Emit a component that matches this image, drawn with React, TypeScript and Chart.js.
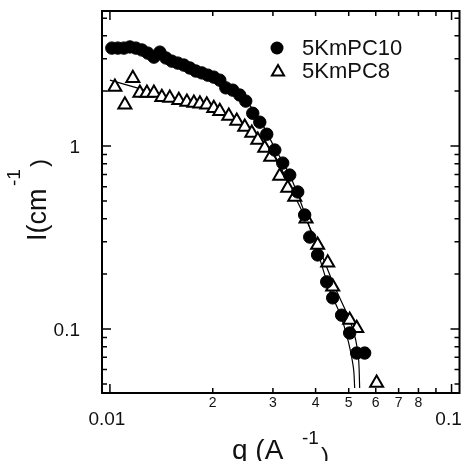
import React, { useEffect, useRef } from 'react';
import { Chart, registerables } from 'chart.js';

Chart.register(...registerables);

const FONT = '"Liberation Sans", Arial, Helvetica, sans-serif';

// 5KmPC10 (filled circles)
const qC = [0.01013, 0.01055, 0.01099, 0.01144, 0.01191, 0.0124, 0.01291, 0.01345, 0.014, 0.01458, 0.01518, 0.0158, 0.01646, 0.01713, 0.01784, 0.01858, 0.01934, 0.02014, 0.02097, 0.02184, 0.02289, 0.02399, 0.02498, 0.02619, 0.02746, 0.02878, 0.03038, 0.03205, 0.0336, 0.03546, 0.03716, 0.03845, 0.04055, 0.04311, 0.04488, 0.04767, 0.05033, 0.05277, 0.05568];
const iC = [3.43, 3.43, 3.43, 3.48, 3.43, 3.35, 3.22, 3.06, 3.26, 3.03, 2.91, 2.84, 2.77, 2.67, 2.57, 2.51, 2.44, 2.38, 2.29, 2.08, 2.02, 1.9, 1.76, 1.51, 1.35, 1.16, 0.951, 0.807, 0.694, 0.561, 0.42, 0.318, 0.254, 0.181, 0.148, 0.119, 0.0951, 0.0739, 0.0739];

// 5KmPC8 (open triangles)
const qT = [0.01034, 0.01106, 0.01167, 0.01224, 0.01283, 0.01345, 0.01419, 0.01497, 0.01591, 0.0168, 0.01761, 0.01834, 0.01921, 0.02014, 0.02097, 0.02228, 0.02351, 0.02481, 0.02602, 0.02709, 0.02839, 0.02956, 0.03141, 0.03315, 0.03475, 0.0375, 0.04055, 0.0434, 0.04488, 0.05033, 0.05277, 0.06035];
const iT = [2.1, 1.68, 2.35, 1.95, 1.95, 1.95, 1.85, 1.83, 1.78, 1.74, 1.72, 1.7, 1.68, 1.61, 1.55, 1.46, 1.37, 1.27, 1.18, 1.08, 0.975, 0.871, 0.686, 0.589, 0.526, 0.4, 0.288, 0.23, 0.17, 0.112, 0.101, 0.0507];

// fitted curves
const qFitC = [0.01, 0.01309, 0.01713, 0.02097, 0.02399, 0.02746, 0.03038, 0.0336, 0.03716, 0.04055, 0.04399, 0.04732, 0.04932, 0.05066, 0.0517, 0.05205];
const iFitC = [3.48, 3.22, 2.74, 2.29, 1.95, 1.39, 0.975, 0.694, 0.43, 0.264, 0.163, 0.119, 0.0927, 0.0749, 0.0597, 0.0476];
const qFitT = [0.01, 0.01327, 0.01858, 0.0232, 0.02709, 0.03038, 0.03475, 0.04055, 0.04549, 0.05033, 0.05241, 0.05346, 0.05383];
const iFitT = [2.29, 1.97, 1.65, 1.37, 1.09, 0.871, 0.533, 0.288, 0.17, 0.112, 0.0871, 0.0677, 0.0476];

// axes
const X_MIN = 0.00948;
const X_MAX = 0.1055;
const Y_MIN = 0.0447;
const Y_MAX = 5.47;
const xMajor = [0.01, 0.1];
const xMajorLabels = ['0.01', '0.1'];
const xMinor = [0.02, 0.03, 0.04, 0.05, 0.06, 0.07, 0.08, 0.09];
const xMinorLabels = ['2', '3', '4', '5', '6', '7', '8', ''];
const yMajor = [0.1, 1];
const yMajorLabels = ['0.1', '1'];
const yMinor = [0.05, 0.06, 0.07, 0.08, 0.09, 0.2, 0.3, 0.4, 0.5, 0.6, 0.7, 0.8, 0.9, 2, 3, 4, 5];

const seriesNames = ['5KmPC10', '5KmPC8'];

const zip = (xs: number[], ys: number[]) => xs.map((x, i) => ({ x, y: ys[i] }));

const drawTriangle = (ctx: CanvasRenderingContext2D, x: number, y: number, r: number) => {
  ctx.beginPath();
  for (let k = 0; k < 3; k++) {
    const a = (k * 2 * Math.PI) / 3;
    const px = x + Math.sin(a) * r;
    const py = y - Math.cos(a) * r;
    if (k === 0) ctx.moveTo(px, py);
    else ctx.lineTo(px, py);
  }
  ctx.closePath();
};

const decorPlugin = {
  id: 'decor',
  afterDraw(chart: any) {
    const { ctx, chartArea: a, scales } = chart;
    const xs = scales.x;
    const ys = scales.y;
    ctx.save();
    ctx.strokeStyle = '#000';
    ctx.fillStyle = '#000';
    ctx.lineWidth = 2;
    ctx.strokeRect(a.left, a.top, a.right - a.left, a.bottom - a.top);

    ctx.lineWidth = 1.5;
    const xTick = (v: number, len: number) => {
      const p = xs.getPixelForValue(v);
      ctx.beginPath();
      ctx.moveTo(p, a.bottom);
      ctx.lineTo(p, a.bottom - len);
      ctx.moveTo(p, a.top);
      ctx.lineTo(p, a.top + len);
      ctx.stroke();
    };
    const yTick = (v: number, len: number) => {
      const p = ys.getPixelForValue(v);
      ctx.beginPath();
      ctx.moveTo(a.left, p);
      ctx.lineTo(a.left + len, p);
      ctx.moveTo(a.right, p);
      ctx.lineTo(a.right - len, p);
      ctx.stroke();
    };
    xMajor.forEach((v) => xTick(v, 9));
    xMinor.forEach((v) => xTick(v, 5));
    yMajor.forEach((v) => yTick(v, 9));
    yMinor.forEach((v) => yTick(v, 5));

    // tick labels
    ctx.fillStyle = '#111';
    ctx.textAlign = 'center';
    ctx.textBaseline = 'middle';
    ctx.font = `14px ${FONT}`;
    xMinor.forEach((v, i) => {
      if (xMinorLabels[i]) ctx.fillText(xMinorLabels[i], xs.getPixelForValue(v), a.bottom + 10);
    });
    ctx.font = `19px ${FONT}`;
    xMajor.forEach((v, i) => {
      ctx.fillText(xMajorLabels[i], xs.getPixelForValue(v) - 3, a.bottom + 27);
    });
    ctx.textAlign = 'right';
    yMajor.forEach((v, i) => {
      ctx.fillText(yMajorLabels[i], a.left - 22, ys.getPixelForValue(v) + 2);
    });

    // x title
    ctx.textAlign = 'left';
    ctx.textBaseline = 'alphabetic';
    ctx.font = `28px ${FONT}`;
    ctx.fillText('q (A', 232, 459);
    ctx.font = `19px ${FONT}`;
    ctx.fillText('-1', 302, 444);
    ctx.font = `24px ${FONT}`;
    ctx.fillText(')', 321, 464);

    // y title
    ctx.save();
    ctx.translate(46, 241);
    ctx.rotate(-Math.PI / 2);
    ctx.font = `27px ${FONT}`;
    ctx.fillText('I(cm', 0, 0);
    ctx.font = `19px ${FONT}`;
    ctx.fillText('-1', 55, -26);
    ctx.font = `24px ${FONT}`;
    ctx.fillText(')', 74, 1);
    ctx.restore();

    // legend
    ctx.fillStyle = '#000';
    ctx.beginPath();
    ctx.arc(277, 48, 6.5, 0, Math.PI * 2);
    ctx.fill();
    ctx.fillStyle = '#fff';
    ctx.lineWidth = 2;
    drawTriangle(ctx, 278, 72, 7);
    ctx.fill();
    ctx.stroke();
    ctx.fillStyle = '#111';
    ctx.font = `22px ${FONT}`;
    ctx.textBaseline = 'middle';
    ctx.fillText(seriesNames[0], 302, 49);
    ctx.fillText(seriesNames[1], 302, 72);
    ctx.restore();
  },
};

export default function App() {
  const ref = useRef<HTMLCanvasElement>(null);
  useEffect(() => {
    if (!ref.current) return;
    const chart = new Chart(ref.current, {
      type: 'scatter',
      data: {
        datasets: [
          {
            label: seriesNames[0],
            data: zip(qC, iC),
            pointStyle: 'circle',
            pointRadius: 6.2,
            backgroundColor: '#000',
            borderColor: '#000',
            borderWidth: 1,
            showLine: false,
            order: 1,
          },
          {
            label: seriesNames[1],
            data: zip(qT, iT),
            pointStyle: 'triangle',
            pointRadius: 7.5,
            backgroundColor: '#fff',
            borderColor: '#000',
            borderWidth: 2,
            showLine: false,
            order: 2,
          },
          {
            label: 'fit10',
            data: zip(qFitC, iFitC),
            showLine: true,
            pointRadius: 0,
            borderColor: '#000',
            borderWidth: 1.2,
            tension: 0.3,
            fill: false,
            order: 3,
          },
          {
            label: 'fit8',
            data: zip(qFitT, iFitT),
            showLine: true,
            pointRadius: 0,
            borderColor: '#000',
            borderWidth: 1.2,
            tension: 0.3,
            fill: false,
            order: 3,
          },
        ],
      },
      options: {
        responsive: false,
        animation: false,
        layout: { padding: { top: 11, right: 9, left: 0, bottom: 0 } },
        plugins: { legend: { display: false }, tooltip: { enabled: false } },
        scales: {
          x: {
            type: 'logarithmic',
            min: X_MIN,
            max: X_MAX,
            grid: { display: false },
            border: { display: false },
            ticks: { display: false },
            afterFit: (s: any) => {
              s.height = 68;
            },
          },
          y: {
            type: 'logarithmic',
            min: Y_MIN,
            max: Y_MAX,
            grid: { display: false },
            border: { display: false },
            ticks: { display: false },
            afterFit: (s: any) => {
              s.width = 102;
            },
          },
        },
      },
      plugins: [decorPlugin],
    } as any);
    return () => chart.destroy();
  }, []);
  return (
    <div style={{ position: 'absolute', left: 0, top: 0, width: 469, height: 461, background: '#fff' }}>
      <canvas ref={ref} width={469} height={461} style={{ display: 'block' }} />
    </div>
  );
}
